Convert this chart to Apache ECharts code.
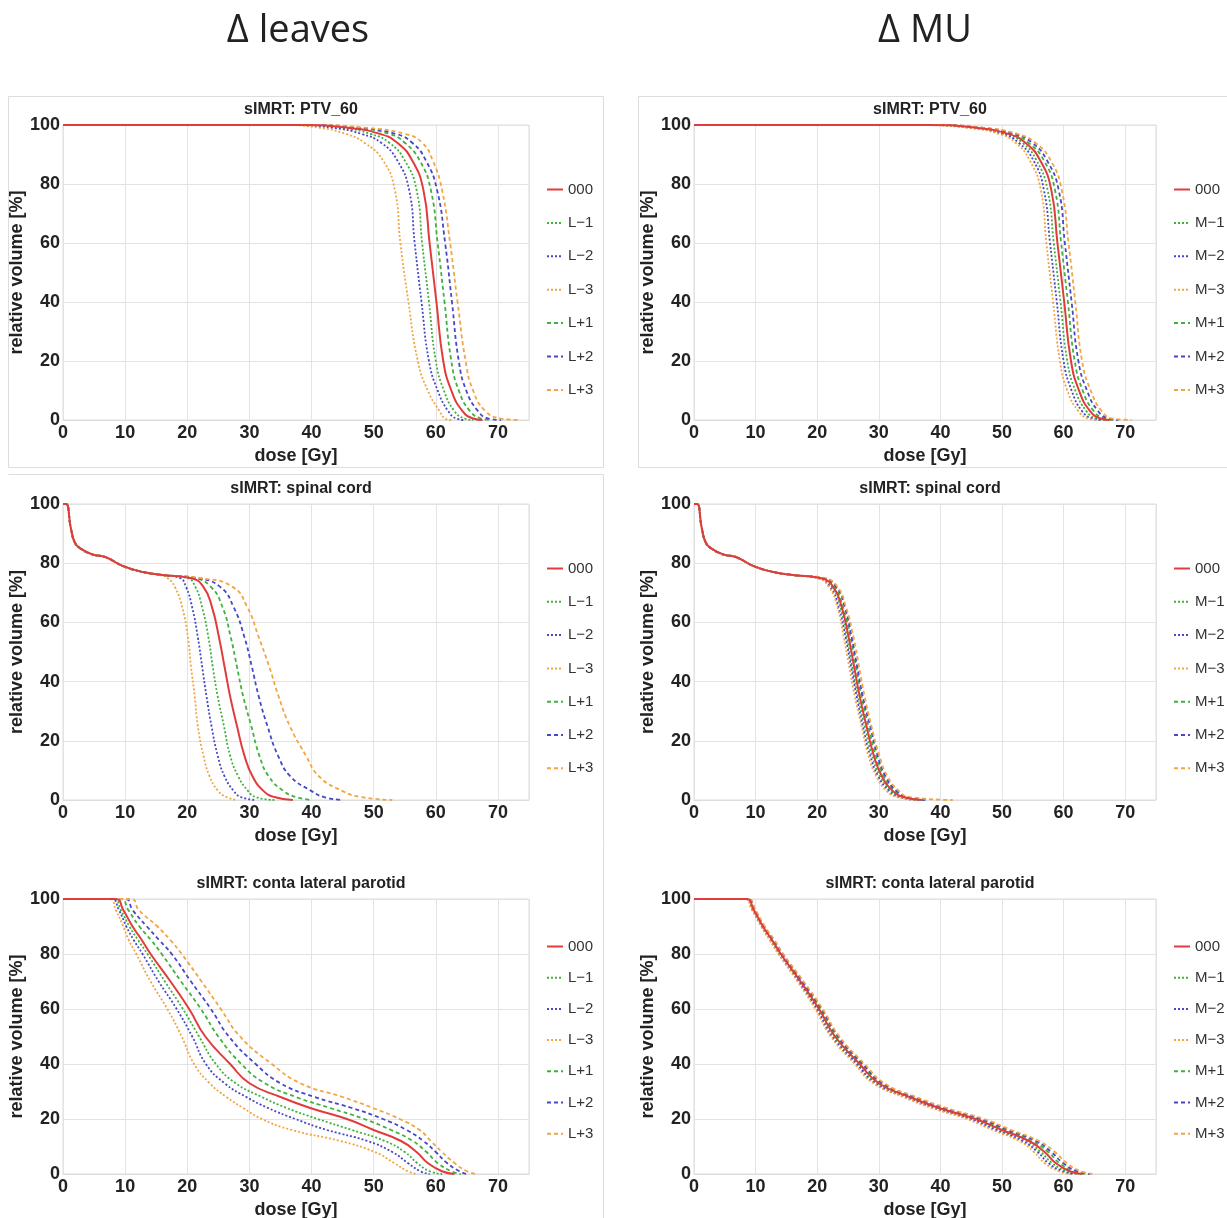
<!DOCTYPE html>
<html>
<head>
<meta charset="utf-8">
<script src="https://cdn.jsdelivr.net/npm/echarts@6/dist/echarts.min.js"></script>
<style>
  html, body { margin: 0; padding: 0; background: #fff; }
  #chart { width: 1227px; height: 1218px; }
</style>
</head>
<body>
<div id="chart"></div>
<script>
var chart = echarts.init(document.getElementById('chart'));

// legend names
var leavesNames = ['000', 'L−1', 'L−2', 'L−3', 'L+1', 'L+2', 'L+3'];
var muNames = ['000', 'M−1', 'M−2', 'M−3', 'M+1', 'M+2', 'M+3'];

var ptvVol = [100, 100, 99, 97, 94, 88, 78, 60, 40, 20, 10, 3, 0.5, 0];
var cordVol = [100, 100, 92, 87, 85, 83, 82, 79, 77, 76, 75, 72, 65, 55, 45, 35, 25, 15, 8, 3, 1, 0];
var parotidVol = [100, 100, 96, 90, 85, 80, 70, 60, 50, 40, 33, 28, 24, 20, 16, 12, 8, 4, 1, 0];

// dose [Gy] per series, same order as the legend names
var ptvLeaves = [
  [0, 38, 46, 51, 53.8, 56.2, 58.0, 59.0, 60.1, 61.2, 62.5, 64.3, 66.0, 67.5],
  [0, 37.5, 45, 49.5, 52.5, 55, 56.9, 57.8, 58.9, 60, 61.3, 63, 64.6, 66],
  [0, 36.5, 43.5, 48, 51.2, 53.8, 55.7, 56.6, 57.7, 58.9, 60.3, 62.0, 63.3, 64.5],
  [0, 35, 41.5, 45.5, 48.5, 51.5, 53.4, 54.3, 55.6, 57.1, 58.7, 60.6, 61.5, 62.5],
  [0, 38.5, 47, 52.5, 55, 57.4, 59.2, 60.3, 61.4, 62.5, 63.7, 65.5, 67.3, 68.8],
  [0, 39, 48, 53.5, 56.2, 58.4, 60.2, 61.5, 62.6, 63.7, 64.9, 66.8, 68.5, 70.5],
  [0, 40, 49, 55, 57.8, 59.5, 61, 62.3, 63.5, 64.8, 66, 68, 70.5, 73.5]
];
var ptvMU = [
  [0, 38, 46, 51, 53.8, 56.2, 58.0, 59.0, 60.1, 61.2, 62.5, 64.3, 66.0, 67.5],
  [0, 37.6, 45.5, 50.5, 53.3, 55.6, 57.4, 58.4, 59.5, 60.6, 61.9, 63.7, 65.3, 66.8],
  [0, 37.2, 45.1, 50, 52.7, 55.1, 56.8, 57.8, 58.9, 60, 61.3, 63, 64.7, 66.2],
  [0, 36.9, 44.6, 49.5, 52.2, 54.5, 56.3, 57.2, 58.3, 59.4, 60.6, 62.4, 64, 65.5],
  [0, 38.4, 46.5, 51.5, 54.3, 56.8, 58.6, 59.6, 60.7, 61.8, 63.1, 64.9, 66.7, 68.2],
  [0, 38.8, 46.9, 52, 54.9, 57.3, 59.2, 60.2, 61.3, 62.4, 63.8, 65.6, 67.3, 68.9],
  [0, 39.1, 47.4, 52.5, 55.4, 57.9, 59.7, 60.8, 61.9, 63, 64.4, 66.2, 68, 71]
];
var cordLeaves = [
  [0, 0.5, 1.25, 1.9, 2.8, 4.7, 6.9, 9.7, 12.9, 16.0, 20.5, 22.6, 24, 25.1, 26, 26.9, 28, 29.2, 30.5, 32.3, 34, 37],
  [0, 0.5, 1.25, 1.9, 2.8, 4.7, 6.9, 9.7, 12.9, 16.0, 20, 21.3, 22.4, 23.4, 24.1, 24.9, 25.9, 26.9, 28.2, 29.8, 31, 34],
  [0, 0.5, 1.25, 1.9, 2.8, 4.7, 6.9, 9.7, 12.9, 16.0, 18.8, 19.8, 20.8, 21.7, 22.4, 23.1, 23.9, 24.9, 26, 27.5, 28.6, 31],
  [0, 0.5, 1.25, 1.9, 2.8, 4.7, 6.9, 9.7, 12.9, 15.5, 16.8, 18, 19.2, 20.1, 20.6, 21.2, 21.7, 22.6, 23.6, 25, 26.3, 28],
  [0, 0.5, 1.25, 1.9, 2.8, 4.7, 6.9, 9.7, 12.9, 16.0, 21, 23.8, 25.7, 27, 28, 29, 30.3, 31.6, 33.1, 35.5, 37.5, 40],
  [0, 0.5, 1.25, 1.9, 2.8, 4.7, 6.9, 9.7, 12.9, 16.0, 21.5, 25.3, 27.5, 29.2, 30.4, 31.5, 32.9, 34.6, 36.6, 40, 42, 45],
  [0, 0.5, 1.25, 1.9, 2.8, 4.7, 6.9, 9.7, 12.9, 16.0, 22, 27.3, 29.7, 31.5, 33.2, 34.7, 36.5, 39.1, 41.2, 45, 48, 53]
];
var cordMU = [
  [0, 0.5, 1.25, 1.9, 2.8, 4.7, 6.9, 9.7, 12.9, 16.0, 20.5, 22.6, 24, 25.1, 26, 26.9, 28, 29.2, 30.5, 32.3, 34, 37],
  [0, 0.5, 1.25, 1.9, 2.8, 4.7, 6.9, 9.7, 12.9, 16.0, 20.3, 22.4, 23.8, 24.8, 25.7, 26.6, 27.7, 28.9, 30.2, 32, 33.7, 36.6],
  [0, 0.5, 1.25, 1.9, 2.8, 4.7, 6.9, 9.7, 12.9, 16.0, 20.1, 22.1, 23.5, 24.6, 25.5, 26.4, 27.4, 28.6, 29.9, 31.7, 33.3, 36.3],
  [0, 0.5, 1.25, 1.9, 2.8, 4.7, 6.9, 9.7, 12.9, 16.0, 19.9, 21.9, 23.3, 24.3, 25.2, 26.1, 27.2, 28.3, 29.6, 31.3, 33, 35.9],
  [0, 0.5, 1.25, 1.9, 2.8, 4.7, 6.9, 9.7, 12.9, 16.0, 20.7, 22.8, 24.2, 25.4, 26.3, 27.2, 28.3, 29.5, 30.8, 32.6, 34.3, 37.4],
  [0, 0.5, 1.25, 1.9, 2.8, 4.7, 6.9, 9.7, 12.9, 16.0, 20.9, 23.1, 24.5, 25.6, 26.5, 27.4, 28.6, 29.8, 31.1, 32.9, 34.7, 37.7],
  [0, 0.5, 1.25, 1.9, 2.8, 4.7, 6.9, 9.7, 12.9, 16.0, 21.1, 23.3, 24.7, 25.9, 26.8, 27.7, 28.8, 30.1, 31.4, 33.3, 35, 42]
];
var parotidLeaves = [
  [0, 8.5, 9.7, 11.2, 12.7, 14.1, 17.3, 20.3, 22.9, 26.9, 30, 35, 39.8, 45.7, 50, 54.4, 56.9, 58.7, 61, 63],
  [0, 8.2, 9.3, 10.7, 12.1, 13.6, 16.4, 19.3, 21.9, 24.6, 27.8, 32, 36, 41, 46.5, 51.8, 55, 57, 59, 61],
  [0, 7.8, 9, 10.2, 11.4, 12.8, 15.4, 18.3, 20.8, 23, 26, 29.5, 33, 37.4, 42.5, 49, 53, 55.5, 57.5, 59],
  [0, 7.5, 8.5, 9.7, 10.6, 11.8, 14.1, 16.8, 19.1, 21.1, 23.6, 26.3, 29, 32, 36.8, 44.6, 50.2, 53.3, 55.5, 57],
  [0, 9.3, 10.5, 12.3, 14.2, 15.9, 19, 22.2, 25, 28.7, 32.5, 37.5, 43, 48.5, 52.8, 56.3, 58.5, 60.3, 62.5, 64],
  [0, 10, 11.2, 13.5, 15.5, 17.5, 20.6, 23.8, 26.7, 31, 35, 40.5, 46.5, 51.5, 55.3, 58, 60, 61.8, 63.8, 65],
  [0, 11, 12.2, 15.2, 17.3, 19.1, 22.3, 25.4, 28.5, 33.6, 38.2, 45, 49.9, 54.2, 57.4, 59.2, 61, 63, 65, 66.5]
];
var parotidMU = [
  [0, 8.5, 9.7, 11.2, 12.7, 14.1, 17.3, 20.3, 22.9, 26.9, 30, 35, 39.8, 45.7, 50, 54.4, 56.9, 58.7, 61, 63],
  [0, 8.4, 9.6, 11.1, 12.6, 14, 17.1, 20.1, 22.7, 26.6, 29.7, 34.7, 39.4, 45.2, 49.5, 53.9, 56.3, 58.1, 60.4, 62.4],
  [0, 8.3, 9.5, 11, 12.4, 13.8, 17, 19.9, 22.4, 26.4, 29.4, 34.3, 39, 44.8, 49, 53.3, 55.8, 57.5, 59.8, 61.7],
  [0, 8.2, 9.4, 10.9, 12.3, 13.7, 16.8, 19.7, 22.2, 26.1, 29.1, 34, 38.6, 44.3, 48.5, 52.8, 55.2, 56.9, 59.2, 61.1],
  [0, 8.6, 9.8, 11.3, 12.8, 14.2, 17.5, 20.5, 23.1, 27.2, 30.3, 35.4, 40.2, 46.2, 50.5, 54.9, 57.5, 59.3, 61.6, 63.6],
  [0, 8.7, 9.9, 11.4, 13, 14.4, 17.6, 20.7, 23.4, 27.4, 30.6, 35.7, 40.6, 46.6, 51, 55.5, 58, 59.9, 62.2, 64.3],
  [0, 8.8, 10, 11.5, 13.1, 14.5, 17.8, 20.9, 23.6, 27.7, 30.9, 36.1, 41, 47.1, 51.5, 56, 58.6, 60.5, 62.8, 64.9]
];

// line styles, same order as the names
var colors = ['#e03c3c', '#3fb13f', '#4747c9', '#f2a543', '#3fb13f', '#4747c9', '#f2a543'];
var dashes = ['solid', [2, 2], [2, 2], [2, 2], [4, 3], [4, 3], [4, 3]];

var panels = [
  { title: 'sIMRT: PTV_60', names: leavesNames, vol: ptvVol, dose: ptvLeaves, left: 63, top: 125, width: 466, height: 295, legendTop: 177, gap: 18.4 },
  { title: 'sIMRT: PTV_60', names: muNames, vol: ptvVol, dose: ptvMU, left: 694, top: 125, width: 462, height: 295, legendTop: 177, gap: 18.4 },
  { title: 'sIMRT: spinal cord', names: leavesNames, vol: cordVol, dose: cordLeaves, left: 63, top: 504, width: 466, height: 296, legendTop: 556, gap: 18.3 },
  { title: 'sIMRT: spinal cord', names: muNames, vol: cordVol, dose: cordMU, left: 694, top: 504, width: 462, height: 296, legendTop: 556, gap: 18.3 },
  { title: 'sIMRT: conta lateral parotid', names: leavesNames, vol: parotidVol, dose: parotidLeaves, left: 63, top: 899, width: 466, height: 275, legendTop: 934, gap: 16.2 },
  { title: 'sIMRT: conta lateral parotid', names: muNames, vol: parotidVol, dose: parotidMU, left: 694, top: 899, width: 462, height: 275, legendTop: 934, gap: 16.2 }
];

var font = 'Liberation Sans';
var option = {
  backgroundColor: '#fff',
  animation: false,
  title: [],
  grid: [],
  xAxis: [],
  yAxis: [],
  legend: [],
  series: [],
  graphic: [
    { type: 'text', x: 298, y: 12, style: { text: 'Δ leaves', font: '38px "Open Sans"', fill: '#222', textAlign: 'center' } },
    { type: 'text', x: 925, y: 12, style: { text: 'Δ MU', font: '38px "Open Sans"', fill: '#222', textAlign: 'center' } },
    // panel frames
    { type: 'rect', shape: { x: 8.5, y: 96.5, width: 595, height: 371 }, style: { fill: 'none', stroke: '#ddd', lineWidth: 1 }, silent: true },
    { type: 'rect', shape: { x: 638.5, y: 96.5, width: 590, height: 371 }, style: { fill: 'none', stroke: '#ddd', lineWidth: 1 }, silent: true },
    { type: 'polyline', shape: { points: [[8.5, 474.5], [603.5, 474.5], [603.5, 1218]] }, style: { fill: 'none', stroke: '#ddd', lineWidth: 1 }, silent: true }
  ]
};

panels.forEach(function (p, i) {
  option.title.push({
    text: p.title,
    left: p.left + p.width / 2,
    top: p.top - 28,
    textAlign: 'center',
    textStyle: { fontFamily: font, fontSize: 16, fontWeight: 'bold', color: '#222' }
  });
  option.grid.push({
    left: p.left, top: p.top, width: p.width, height: p.height,
    show: true, borderColor: '#ddd', borderWidth: 1,
    outerBoundsMode: 'none'
  });
  option.xAxis.push({
    type: 'value', gridIndex: i, min: 0, max: 75, interval: 10,
    name: 'dose [Gy]', nameLocation: 'middle', nameGap: 27,
    nameTextStyle: { fontFamily: font, fontSize: 18, fontWeight: 'bold', color: '#222' },
    axisLine: { show: true, lineStyle: { color: '#ddd' } },
    axisTick: { show: false },
    axisLabel: { fontFamily: font, fontSize: 18, fontWeight: 'bold', color: '#222', margin: 4, showMaxLabel: false },
    splitLine: { show: true, lineStyle: { color: '#e3e3e3', width: 1 } }
  });
  option.yAxis.push({
    type: 'value', gridIndex: i, min: 0, max: 100, interval: 20,
    name: 'relative volume [%]', nameLocation: 'middle', nameGap: 37, nameRotate: 90,
    nameTextStyle: { fontFamily: font, fontSize: 18, fontWeight: 'bold', color: '#222' },
    axisLine: { show: false },
    axisTick: { show: false },
    axisLabel: { fontFamily: font, fontSize: 18, fontWeight: 'bold', color: '#222', margin: 3 },
    splitLine: { show: true, lineStyle: { color: '#e3e3e3', width: 1 } }
  });
  option.legend.push({
    data: p.names,
    orient: 'vertical',
    left: p.left + p.width + 12,
    top: p.legendTop,
    itemWidth: 16, itemHeight: 14, itemGap: p.gap,
    itemStyle: { opacity: 0 },
    textStyle: { fontFamily: font, fontSize: 15, color: '#333' },
    selectedMode: false
  });
  p.names.forEach(function (name, k) {
    option.series.push({
      name: name,
      type: 'line',
      xAxisIndex: i,
      yAxisIndex: i,
      symbol: 'none',
      smooth: 0.5,
      z: k === 0 ? 3 : 2,
      color: colors[k],
      lineStyle: { color: colors[k], width: k === 0 ? 2 : 1.8, type: dashes[k] },
      data: p.dose[k].map(function (d, j) { return [d, p.vol[j]]; })
    });
  });
});

chart.setOption(option);
</script>
</body>
</html>
